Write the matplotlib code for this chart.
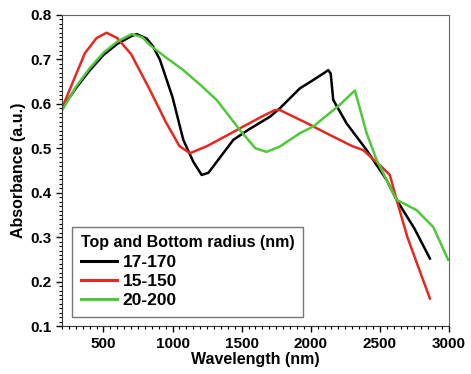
import numpy as np
import matplotlib
matplotlib.use("Agg")
import matplotlib.pyplot as plt
from matplotlib.ticker import MultipleLocator, AutoMinorLocator

plt.rcParams["font.family"] = ["Liberation Sans", "DejaVu Sans"]
plt.rcParams["font.weight"] = "bold"

# 17-170 (black)
wl_a = [200, 300, 400, 500, 600, 700, 740, 813, 860, 909, 1000, 1078, 1150, 1211, 1260,
        1350, 1440, 1550, 1705, 1777, 1922, 2000, 2100, 2127, 2145, 2163, 2260, 2405, 2549, 2622,
        2750, 2863]
ab_a = [0.590, 0.635, 0.675, 0.710, 0.735, 0.752, 0.757, 0.747, 0.729, 0.699, 0.615, 0.519, 0.47,
        0.440, 0.445, 0.482, 0.519, 0.542, 0.571, 0.590, 0.635, 0.650, 0.670, 0.676, 0.668, 0.609,
        0.556, 0.496, 0.429, 0.384, 0.32, 0.252]

# 15-150 (red)
wl_b = [200, 300, 366, 450, 523, 600, 700, 837, 950, 1050, 1126, 1250, 1400, 1512, 1650, 1741,
        1777, 1950, 2139, 2300, 2380, 2501, 2573, 2622, 2700, 2800, 2863]
ab_b = [0.590, 0.665, 0.714, 0.748, 0.760, 0.748, 0.712, 0.631, 0.56, 0.505, 0.489, 0.505,
        0.530, 0.549, 0.572, 0.586, 0.586, 0.56, 0.530, 0.505, 0.496, 0.462, 0.44, 0.384, 0.30,
        0.215, 0.162]

# 20-200 (green)
wl_c = [200, 300, 400, 500, 600, 704, 780, 837, 950, 1078, 1200, 1319, 1488, 1600, 1681, 1777,
        1922, 2018, 2200, 2320, 2405, 2477, 2573, 2622, 2766, 2887, 2995]
ab_c = [0.585, 0.638, 0.680, 0.715, 0.740, 0.757, 0.750, 0.732, 0.705, 0.676, 0.643, 0.609,
        0.541, 0.500, 0.492, 0.504, 0.534, 0.549, 0.595, 0.630, 0.534, 0.474, 0.414, 0.384, 0.361,
        0.323, 0.249]

labels = ["17-170", "15-150", "20-200"]
colors = ["black", "#e8281e", "#4fc83a"]

fig = plt.figure(figsize=(4.71, 3.74), dpi=100)
ax = fig.add_axes([0.1316, 0.128, 0.8214, 0.832])

for wl, ab, lab, col in zip([wl_a, wl_b, wl_c], [ab_a, ab_b, ab_c], labels, colors):
    ax.plot(wl, ab, color=col, lw=1.8, label=lab)

ax.set_xlim(200, 3000)
ax.set_ylim(0.1, 0.8)
ax.xaxis.set_major_locator(MultipleLocator(500))
ax.yaxis.set_major_locator(MultipleLocator(0.1))
ax.xaxis.set_minor_locator(AutoMinorLocator(10))
ax.yaxis.set_minor_locator(AutoMinorLocator(10))
ax.tick_params(which="major", direction="out", length=4, width=1, labelsize=11)
ax.tick_params(which="minor", direction="out", length=2, width=0.8)
for sp in ["top", "right"]:
    ax.spines[sp].set_color("#666666")
for sp in ["left", "bottom"]:
    ax.spines[sp].set_color("#333333")
ax.set_xlabel("Wavelength (nm)", fontsize=11.5, fontweight="bold", labelpad=1)
ax.set_ylabel("Absorbance (a.u.)", fontsize=11.5, fontweight="bold", labelpad=3)

leg = ax.legend(title="Top and Bottom radius (nm)", loc="lower left",
                bbox_to_anchor=(0.026, 0.029), borderaxespad=0, fancybox=False,
                framealpha=1, edgecolor="#777777", handlelength=2.1, handletextpad=0.3,
                labelspacing=0.24, borderpad=0.5,
                prop={"size": 12.5, "weight": "bold"},
                title_fontproperties={"size": 11.5, "weight": "bold"})
leg._legend_box.align = "left"
for line in leg.get_lines():
    line.set_linewidth(2.2)

fig.savefig("out.png", dpi=100)
